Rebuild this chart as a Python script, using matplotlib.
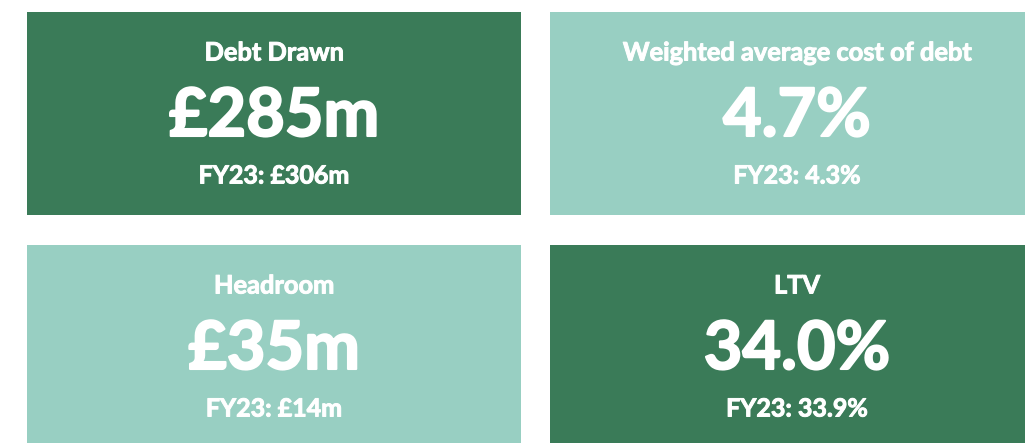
import matplotlib
matplotlib.use("Agg")
import matplotlib.pyplot as plt
from matplotlib.patches import Rectangle
import matplotlib.patheffects as pe

titles = ["Debt Drawn", "Weighted average cost of debt", "Headroom", "LTV"]
values = ["£285m", "4.7%", "£35m", "34.0%"]
prior = ["FY23: £306m", "FY23: 4.3%", "FY23: £14m", "FY23: 33.9%"]

DARK = "#3a7b58"
LIGHT = "#98cfc2"
tile_colors = [DARK, LIGHT, LIGHT, DARK]

W, H = 1025, 443
fig = plt.figure(figsize=(W / 100, H / 100), dpi=100)
ax = fig.add_axes([0, 0, 1, 1])
ax.set_xlim(0, W)
ax.set_ylim(H, 0)
ax.axis("off")

x0s = [27, 550]
y0s = [12, 245]
tw, th = 494, 203
fam = ["Lato", "DejaVu Sans"]

def thick(w):
    return [pe.withStroke(linewidth=w, foreground="white")]

for i, (t, v, p, c) in enumerate(zip(titles, values, prior, tile_colors)):
    col, row = i % 2, i // 2
    x0, y0 = x0s[col], y0s[row]
    ax.add_patch(Rectangle((x0, y0), tw, th, facecolor=c, edgecolor="none"))
    cx = x0 + tw / 2
    ax.text(cx, y0 + 41, t, ha="center", va="center", color="white",
            fontsize=18.3, fontweight="bold", family=fam, path_effects=thick(0.7))
    ax.text(cx, y0 + 105, v, ha="center", va="center", color="white",
            fontsize=48, fontweight="bold", family=fam, path_effects=thick(1.5))
    ax.text(cx, y0 + 164, p, ha="center", va="center", color="white",
            fontsize=18, fontweight="bold", family=fam, path_effects=thick(0.7))

fig.savefig("out.png", dpi=100, facecolor="white")
